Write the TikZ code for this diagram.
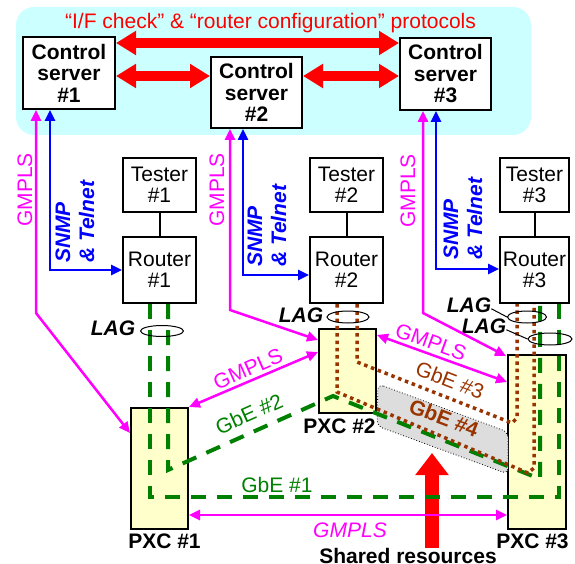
\documentclass[tikz,border=0pt]{standalone}
\usepackage{fontspec}
\setmainfont{Liberation Sans}
\usetikzlibrary{arrows.meta,calc,shapes.geometric}
\definecolor{bgcyan}{HTML}{CCFFFF}
\definecolor{pxcyellow}{HTML}{FFFFCC}
\definecolor{gbegreen}{HTML}{008000}
\definecolor{gbebrown}{HTML}{993300}
\definecolor{magent}{HTML}{FF00FF}
\definecolor{shadegray}{HTML}{DDDDDD}
\begin{document}
\begin{tikzpicture}[x=1pt,y=-1pt,
  txt/.style={font=\fontsize{21}{21.5}\selectfont, inner sep=0pt},
  txtb/.style={font=\fontsize{21}{21.5}\selectfont\bfseries, inner sep=0pt},
  txtbi/.style={font=\fontsize{21}{24}\selectfont\bfseries\itshape, inner sep=0pt},
  txti/.style={font=\fontsize{21}{21.5}\selectfont\itshape, inner sep=0pt},
  csbox/.style={draw=black, line width=2pt, fill=white, inner sep=0pt, align=center, txtb},
  devbox/.style={draw=black, line width=2pt, fill=white, inner sep=0pt, align=center, txt},
  pxcbox/.style={draw=black, line width=2pt, fill=pxcyellow, inner sep=0pt},
  bigred/.style={draw=red, line width=10pt, {Triangle[length=20pt,width=23pt]}-{Triangle[length=20pt,width=23pt]}},
  mg/.style={draw=magent, line width=2.5pt, {Triangle[length=11pt,width=10pt]}-{Triangle[length=11pt,width=10pt]}},
  bluearr/.style={draw=blue, line width=2.5pt, {Triangle[length=11pt,width=10pt]}-{Triangle[length=11pt,width=10pt]}},
  gline/.style={draw=gbegreen, line width=4pt, dash pattern=on 15pt off 11pt},
  bline/.style={draw=gbebrown, line width=3.5pt, dash pattern=on 3.5pt off 3.8pt},
  lagring/.style={draw=black, line width=1pt, ellipse, inner sep=0pt},
]
\useasboundingbox (0,0) rectangle (575,564);

% cyan background
\fill[bgcyan, rounded corners=18pt] (16,7) rectangle (531,135);
\node[txt, text=red, anchor=base] (title) at (270.5,29) {“I/F check” \& “router configuration” protocols};

% control servers
\node[csbox, minimum width=92pt, minimum height=72pt] (cs1) at (69,73) {Control\\server\\\#1};
\node[csbox, minimum width=91pt, minimum height=71pt] (cs2) at (256.5,92.5) {Control\\server\\\#2};
\node[csbox, minimum width=91pt, minimum height=72pt] (cs3) at (445.5,74) {Control\\server\\\#3};

\draw[bigred] (cs1.east |- 0,43) -- (cs3.west |- 0,43);
\draw[bigred] (cs1.east |- 0,76) -- (cs2.west |- 0,76);
\draw[bigred] (cs2.east |- 0,76) -- (cs3.west |- 0,76);

% testers and routers
\node[devbox, minimum width=73pt, minimum height=54pt] (t1) at (159.5,185) {Tester\\\#1};
\node[devbox, minimum width=73pt, minimum height=66pt] (r1) at (159.5,270) {Router\\\#1};
\node[devbox, minimum width=73pt, minimum height=54pt] (t2) at (346.5,185) {Tester\\\#2};
\node[devbox, minimum width=73pt, minimum height=66pt] (r2) at (346.5,270) {Router\\\#2};
\node[devbox, minimum width=69pt, minimum height=54pt] (t3) at (534.5,185) {Tester\\\#3};
\node[devbox, minimum width=69pt, minimum height=66pt] (r3) at (534.5,270) {Router\\\#3};
\draw[line width=2pt] (t1) -- (r1);
\draw[line width=2pt] (t2) -- (r2);
\draw[line width=2pt] (t3) -- (r3);

% PXCs
\node[pxcbox, minimum width=57pt, minimum height=121pt] (pxc1) at (159.5,468.5) {};
\node[pxcbox, minimum width=57pt, minimum height=84pt] (pxc2) at (347.5,371) {};
\node[pxcbox, minimum width=58pt, minimum height=174pt] (pxc3) at (537,442) {};
\node[txtb, anchor=base] (pxc1lab) at (164.5,548) {PXC \#1};
\node[txtb, anchor=base] (pxc2lab) at (339.5,433) {PXC \#2};
\node[txtb, anchor=base] (pxc3lab) at (532.5,548) {PXC \#3};

% shared resources region
\draw[black, line width=0.8pt, dotted, fill=shadegray, rounded corners=6pt]
  (378,384) -- (508,432) -- (508,474) -- (377,426) -- cycle;

% shared resources arrow
\node[txtb, anchor=base] (shared) at (408,563) {Shared resources};
\coordinate (sharedtip) at (432,453);
\draw[red, line width=14pt, -{Triangle[length=22pt,width=32pt]}] (shared.north -| sharedtip) -- (sharedtip);

% GbE lines
\draw[gline] (r1.south -| 150,0) -- (150,497) -- (559,497) -- (r3.south -| 559,0);
\draw[gline] (r1.south -| 168,0) -- (168,470) -- (333,396) -- (540,479) -- (r3.south -| 540,0);
\draw[bline] (r2.south -| 357,0) -- (357,362) -- (512,423) -- (517,418) -- (r3.south -| 517,0);
\draw[bline] (r2.south -| 337,0) -- (337,392) -- (528,473) -- (534,468) -- (r3.south -| 534,0);

% LAG rings
\node[lagring, minimum width=43pt, minimum height=11pt] (lag1) at (162,331) {};
\node[lagring, minimum width=42pt, minimum height=12pt] (lag2) at (348,317) {};
\node[lagring, minimum width=39pt, minimum height=12pt] (lag3a) at (527,317) {};
\node[lagring, minimum width=44pt, minimum height=12pt] (lag3b) at (550,339) {};
\node[txtbi, anchor=base] (lag1lab) at (113,335) {LAG};
\node[txtbi, anchor=base] (lag2lab) at (301,322) {LAG};
\node[txtbi, anchor=base] (lag3alab) at (469,312) {LAG};
\node[txtbi, anchor=base] (lag3blab) at (484,333) {LAG};
\draw[line width=1pt] ([yshift=-4pt]lag3alab.east) -- (lag3a.west);
\draw[line width=1pt] ([yshift=-4pt]lag3blab.east) -- (lag3b.west);

% GMPLS and SNMP arrows from control servers
\draw[mg] (cs1.south -| 36,0) -- (36,313) -- (pxc1.west |- 0,433);
\draw[bluearr] (cs1.south -| 50,0) -- (50,270) -- (r1.west |- 0,270);
\draw[mg] (cs2.south -| 230,0) -- (230,310) -- (pxc2.west |- 0,340);
\draw[bluearr] (cs2.south -| 243,0) -- (243,275) -- (r2.west |- 0,275);
\draw[mg] (cs3.south -| 423,0) -- (423,313) -- ([xshift=-1pt,yshift=-2pt]pxc3.north west);
\draw[bluearr] (cs3.south -| 436,0) -- (436,269) -- (r3.west |- 0,269);

\node[txt, text=magent, rotate=90] (g1) at (25,190) {GMPLS};
\node[txt, text=magent, rotate=90] (g2) at (217,190) {GMPLS};
\node[txt, text=magent, rotate=90] (g3) at (408,191) {GMPLS};
\node[txtbi, text=blue, rotate=90, anchor=west, align=left] (s1) at (75,263) {SNMP\\\& Telnet};
\node[txtbi, text=blue, rotate=90, anchor=west, align=left] (s2) at (267,267) {SNMP\\\& Telnet};
\node[txtbi, text=blue, rotate=90, anchor=west, align=left] (s3) at (463,260) {SNMP\\\& Telnet};

% GMPLS between PXCs
\draw[mg] (pxc1.north east) -- (pxc2.west |- 0,352);
\draw[mg] (pxc2.east |- 0,335) -- (pxc3.west |- 0,382);
\draw[mg] (pxc1.east |- 0,515) -- (pxc3.west |- 0,515);
\node[txt, text=magent, rotate=24] (gp12) at (248,369) {GMPLS};
\node[txt, text=magent, rotate=-20] (gp23) at (431,342) {GMPLS};
\node[txti, text=magent, anchor=base] (gp13) at (350,537) {GMPLS};

% GbE labels
\node[txt, text=gbegreen, anchor=base] (gbe1) at (277,492) {GbE \#1};
\node[txt, text=gbegreen, rotate=24] (gbe2) at (249,414) {GbE \#2};
\node[txt, text=gbebrown, rotate=-21] (gbe3) at (450,380) {GbE \#3};
\node[txtb, text=gbebrown, rotate=-21] (gbe4) at (444,418) {GbE \#4};
\end{tikzpicture}
\end{document}
